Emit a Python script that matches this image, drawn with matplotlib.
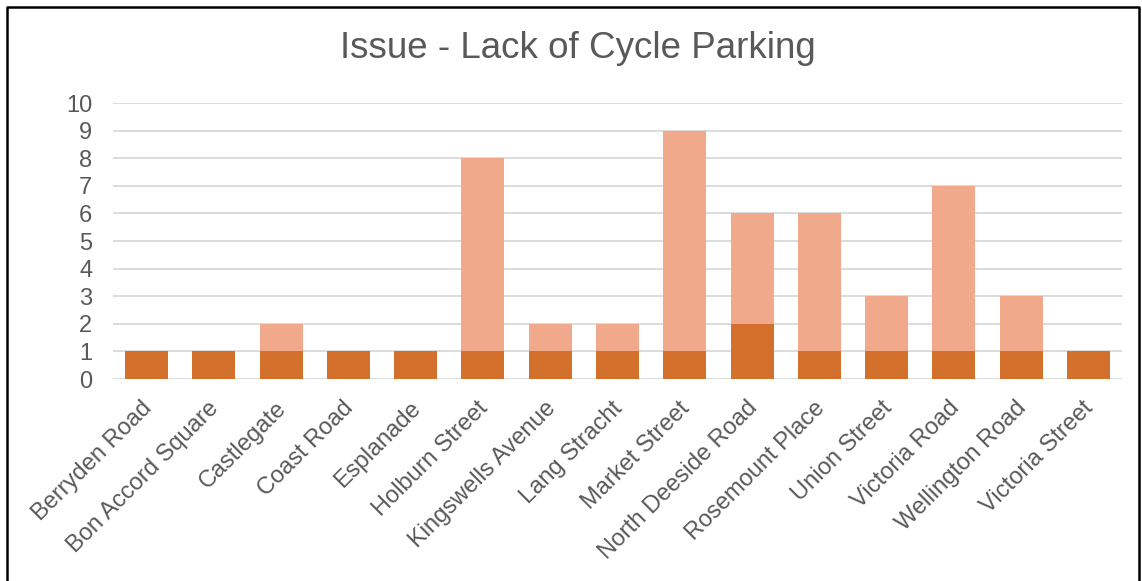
import matplotlib
matplotlib.use("Agg")
import matplotlib.pyplot as plt
import matplotlib.transforms as mtransforms
from matplotlib.lines import Line2D
import numpy as np

categories = ["Berryden Road", "Bon Accord Square", "Castlegate", "Coast Road", "Esplanade",
              "Holburn Street", "Kingswells Avenue", "Lang Stracht", "Market Street",
              "North Deeside Road", "Rosemount Place", "Union Street", "Victoria Road",
              "Wellington Road", "Victoria Street"]
series_bottom = [1, 1, 1, 1, 1, 1, 1, 1, 1, 2, 1, 1, 1, 1, 1]
series_top = [0, 0, 1, 0, 0, 7, 1, 1, 8, 4, 5, 2, 6, 2, 0]
yticks = list(range(0, 11))

plt.rcParams['font.family'] = ['Liberation Sans', 'DejaVu Sans']
W, H = 1142, 581
fig = plt.figure(figsize=(W / 100, H / 100), dpi=100)
ax = fig.add_axes([113 / W, 1 - 379 / H, (1122 - 113) / W, (379 - 103) / H])

x = np.arange(len(categories))
dark = "#D2702C"
light = "#F1A98B"
ax.bar(x, series_bottom, width=0.64, color=dark, zorder=2)
ax.bar(x, series_top, width=0.64, bottom=series_bottom, color=light, zorder=2)

ax.set_xlim(-0.5, len(categories) - 0.5)
ax.set_ylim(0, 10)
ax.set_yticks(yticks)
ax.yaxis.grid(True, color="#D9D9D9", linewidth=1.3, zorder=0)
ax.set_axisbelow(True)
for s in ax.spines.values():
    s.set_visible(False)
ax.tick_params(axis='both', length=0, colors="#595959", labelsize=17)
ax.tick_params(axis='y', pad=15)
ax.set_xticks(x)
ax.set_xticklabels(categories, rotation=45, ha='right', rotation_mode='anchor')
ax.tick_params(axis='x', pad=13)
offset = mtransforms.ScaledTranslation(-6 / 100, 0, fig.dpi_scale_trans)
for lab in ax.get_xticklabels():
    lab.set_transform(lab.get_transform() + offset)

fig.text(578 / W, 1 - 48 / H, "Issue - Lack of Cycle Parking", ha='center', va='center',
         fontsize=26.5, color="#595959")

# border
bx0, bx1, by0 = 7 / W, 1139 / W, 1 - 7 / H
fig.add_artist(Line2D([bx0, bx0, bx1, bx1], [0, by0, by0, 0], color="black",
                      linewidth=1.8, transform=fig.transFigure))

fig.savefig("out.png", dpi=100)
